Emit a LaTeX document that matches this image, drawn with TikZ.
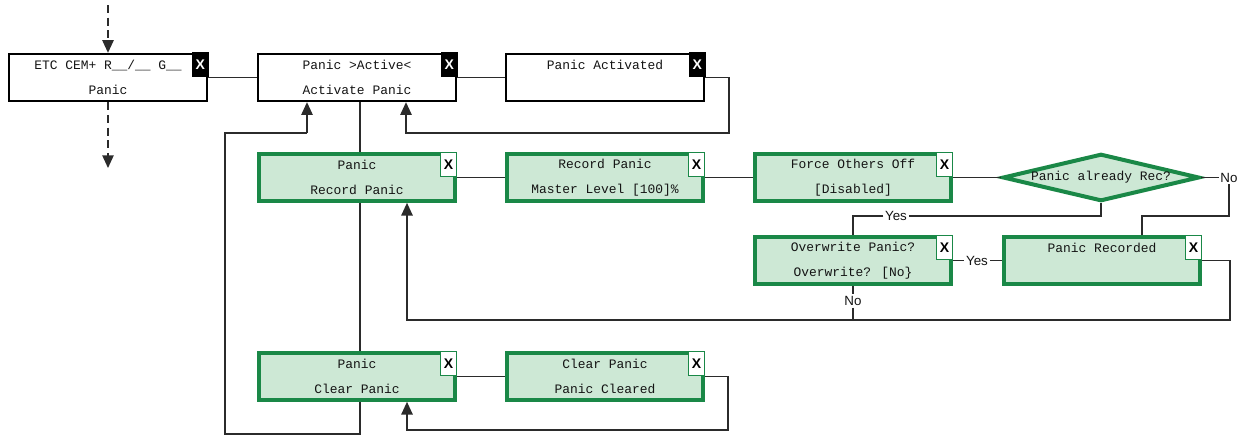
\documentclass[tikz,border=0pt]{standalone}
\usepackage{fontspec}
\newfontfamily\monof{Liberation Mono}
\newfontfamily\labf{Liberation Sans}
\usetikzlibrary{shapes.geometric,arrows.meta,calc}
\definecolor{gfill}{HTML}{CDE8D5}
\definecolor{gline}{HTML}{1A8847}
\definecolor{cline}{HTML}{2B2B2B}
\begin{document}
\begin{tikzpicture}[x=0.75pt,y=-0.75pt,
  box/.style={rectangle, inner sep=0pt, align=center, text=black!92,
    font=\monof\fontsize{9.7}{18.75}\selectfont},
  wbox/.style={box, draw=black, line width=1.6pt, fill=white,
    minimum width=148.4pt, minimum height=35.4pt},
  gbox/.style={box, draw=gline, line width=3pt, fill=gfill,
    minimum width=147pt, minimum height=35pt},
  xk/.style={rectangle, fill=black, text=white, minimum width=12.5pt,
    minimum height=18.75pt, inner sep=0pt, anchor=north east,
    font=\labf\bfseries\fontsize{10.5}{11}\selectfont},
  xg/.style={rectangle, fill=white, draw=gline, line width=0.6pt, text=black,
    minimum width=12pt, minimum height=18pt, inner sep=0pt, anchor=north east,
    font=\labf\bfseries\fontsize{10.5}{11}\selectfont},
  dia/.style={diamond, draw=gline, line width=3pt, fill=gfill, aspect=4,
    inner sep=0pt, minimum width=147.5pt, minimum height=35.5pt, text=black!92,
    font=\monof\fontsize{9.7}{11}\selectfont},
  conn/.style={draw=cline, line width=1.1pt},
  arr/.style={conn, -{Triangle[length=9.5pt,width=8.5pt]}},
  dsh/.style={arr, dash pattern=on 6pt off 3.5pt},
  lab/.style={font=\labf\fontsize{10}{11}\selectfont, fill=white, inner sep=1.2pt, text=black!92}
]
\useasboundingbox (0,0) rectangle (1241,436);

\coordinate (b1c) at (108,77.5);
\coordinate (b2c) at (357,77.5);
\coordinate (b3c) at (605,77.5);
\coordinate (g1c) at (357,177.5);
\coordinate (g2c) at (605,177.5);
\coordinate (g3c) at (853,177.5);
\coordinate (dc)  at (1101,177.5);
\coordinate (g4c) at (853,260.5);
\coordinate (g5c) at (1102,260.5);
\coordinate (g6c) at (357,376.5);
\coordinate (g7c) at (605,376.5);

% vertical trunk behind the green boxes
\draw[conn] (360,102) -- (360,434) -- (225,434) -- (225,133) -- (307,133) coordinate (lt);

% ---------- nodes ----------
\node[wbox] (b1) at (b1c) {ETC CEM+ R\_\_/\_\_ G\_\_\\Panic};
\node[xk] (b1x) at ($(b1.north east)+(1,-1)$) {X};
\node[wbox] (b2) at (b2c) {Panic >Active<\\Activate Panic};
\node[xk] (b2x) at ($(b2.north east)+(1,-1)$) {X};
\node[wbox] (b3) at (b3c) {Panic Activated\\\mbox{}};
\node[xk] (b3x) at ($(b3.north east)+(1,-1)$) {X};

\node[gbox] (g1) at (g1c) {Panic\\Record Panic};
\node[xg] (g1x) at (g1.north east) {X};
\node[gbox] (g2) at (g2c) {Record Panic\\Master Level [100]\%};
\node[xg] (g2x) at (g2.north east) {X};
\node[gbox] (g3) at (g3c) {Force Others Off\\{}[Disabled]};
\node[xg] (g3x) at (g3.north east) {X};
\node[dia] (d) at (dc) {Panic already Rec?};
\node[gbox] (g4) at (g4c) {Overwrite Panic?\\Overwrite? [No\}};
\node[xg] (g4x) at (g4.north east) {X};
\node[gbox] (g5) at (g5c) {Panic Recorded\\\mbox{}};
\node[xg] (g5x) at (g5.north east) {X};
\node[gbox] (g6) at (g6c) {Panic\\Clear Panic};
\node[xg] (g6x) at (g6.north east) {X};
\node[gbox] (g7) at (g7c) {Clear Panic\\Panic Cleared};
\node[xg] (g7x) at (g7.north east) {X};

% labels
\node[lab] (no1) at (1229,177.5) {No};
\node[lab] (yes1) at (896,216) {Yes};
\node[lab] (yes2) at (977,260.5) {Yes};
\node[lab] (no2) at (853,301) {No};

% ---------- connectors ----------
\coordinate (tin) at (108,5);
\coordinate (tout) at (108,168);
\draw[dsh] (tin) -- (b1.north);
\draw[dsh] (b1.south) -- (tout);

\draw[conn] (b1.east) -- (b2.west);
\draw[conn] (b2.east) -- (b3.west);
\draw[arr] (b3.east) -- (729,77.5) |- (406,133) -- ($(b2.south)+(49,0)$);
\draw[arr] (lt) -- ($(b2.south)+(-50,0)$);

\draw[conn] (g1.east) -- (g2.west);
\draw[conn] (g2.east) -- (g3.west);
\draw[conn] (g3.east) -- (d.west);
\draw[conn] (d.east) -- (no1.west);
\draw[conn] (no1.south) |- (1142,216) -- (g5.north -| 1142,0);
\draw[conn] (d.south) |- (yes1.east);
\draw[conn] (yes1.west) -| (g4.north);
\draw[conn] (g4.east) -- (yes2.west);
\draw[conn] (yes2.east) -- (g5.west);
\draw[conn] (g4.south) -- (no2.north);
\draw[conn] (no2.south) -- (853,320);
\draw[arr] (g5.east) -- (1230,260.5) |- (407,320) -- ($(g1.south)+(50,0)$);

\draw[conn] (g6.east) -- (g7.west);
\draw[arr] (g7.east) -- (728,376.5) |- (407,430) -- ($(g6.south)+(50,0)$);
\end{tikzpicture}
\end{document}
